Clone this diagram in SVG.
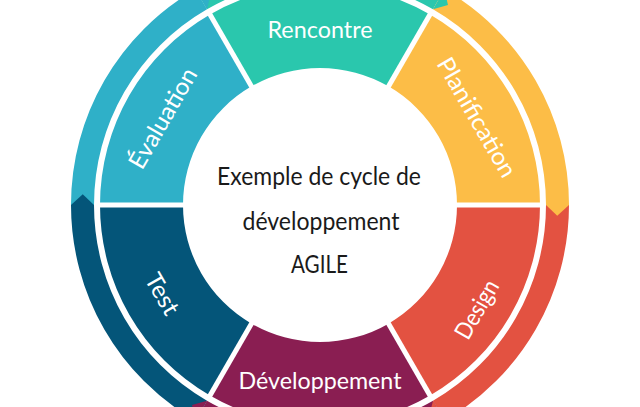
<svg xmlns="http://www.w3.org/2000/svg" width="640" height="407" viewBox="0 0 640 407">
<style>
.lbl{font-family:Lato,"Open Sans","DejaVu Sans",sans-serif;font-size:24px;fill:#ffffff;text-anchor:middle}
.ctr{font-family:Lato,"Open Sans","DejaVu Sans",sans-serif;font-size:25px;fill:#1a1a1a;text-anchor:middle}
.sep{stroke:#ffffff;stroke-width:5;fill:none}
.teal{fill:#2ac7ad}.yel{fill:#fcbd47}.red{fill:#e35241}.pur{fill:#8a1e52}.dblue{fill:#045579}.lblue{fill:#2fb0c8}
</style>
<rect width="640" height="407" fill="#ffffff"/>
<g id="ring">
<path class="teal" d="M195.5,-10.64 A249,249 0 0 1 444.5,-10.64 L433,9.28 A226,226 0 0 0 207,9.28 Z"/>
<path class="yel" d="M444.5,-10.64 A249,249 0 0 1 569,205 L546,205 A226,226 0 0 0 433,9.28 Z"/>
<path class="red" d="M569,205 A249,249 0 0 1 444.5,420.64 L433,400.72 A226,226 0 0 0 546,205 Z"/>
<path class="pur" d="M444.5,420.64 A249,249 0 0 1 195.5,420.64 L207,400.72 A226,226 0 0 0 433,400.72 Z"/>
<path class="dblue" d="M195.5,420.64 A249,249 0 0 1 71,205 L94,205 A226,226 0 0 0 207,400.72 Z"/>
<path class="lblue" d="M71,205 A249,249 0 0 1 195.5,-10.64 L207,9.28 A226,226 0 0 0 94,205 Z"/>
<polygon class="teal" points="444.5,-10.64 447.97,4.91 433,9.28"/>
<polygon class="yel" points="569,205 557.26,215.77 546,205"/>
<polygon class="red" points="444.5,420.64 429.3,415.85 433,400.72"/>
<polygon class="pur" points="195.5,420.64 192.03,405.09 207,400.72"/>
<polygon class="dblue" points="71,205 82.74,194.23 94,205"/>
<polygon class="lblue" points="195.5,-10.64 210.7,-5.85 207,9.28"/>
</g>
<g id="rencontre">
<path class="teal" d="M210,14.47 A220,220 0 0 1 430,14.47 L388.5,86.36 A137,137 0 0 0 251.5,86.36 Z"/>
<text class="lbl" x="320" y="37.5" textLength="105" lengthAdjust="spacingAndGlyphs">Rencontre</text>
</g>
<g id="planification">
<path class="yel" d="M430,14.47 A220,220 0 0 1 540,205 L457,205 A137,137 0 0 0 388.5,86.36 Z"/>
<text class="lbl" transform="translate(469.6,121.5) rotate(60)" x="0" y="0" textLength="134" lengthAdjust="spacingAndGlyphs">Planification</text>
</g>
<g id="design">
<path class="red" d="M540,205 A220,220 0 0 1 430,395.53 L388.5,323.64 A137,137 0 0 0 457,205 Z"/>
<text class="lbl" transform="translate(484,313.5) rotate(-60)" x="0" y="0" textLength="64" lengthAdjust="spacingAndGlyphs">Design</text>
</g>
<g id="developpement">
<path class="pur" d="M430,395.53 A220,220 0 0 1 210,395.53 L251.5,323.64 A137,137 0 0 0 388.5,323.64 Z"/>
<text class="lbl" x="320" y="389" textLength="163" lengthAdjust="spacingAndGlyphs">Développement</text>
</g>
<g id="test">
<path class="dblue" d="M210,395.53 A220,220 0 0 1 100,205 L183,205 A137,137 0 0 0 251.5,323.64 Z"/>
<text class="lbl" transform="translate(155.1,298) rotate(60)" x="0" y="0" textLength="44" lengthAdjust="spacingAndGlyphs">Test</text>
</g>
<g id="evaluation">
<path class="lblue" d="M100,205 A220,220 0 0 1 210,14.47 L251.5,86.36 A137,137 0 0 0 183,205 Z"/>
<text class="lbl" transform="translate(170,122.5) rotate(-60)" x="0" y="0" textLength="112" lengthAdjust="spacingAndGlyphs">Évaluation</text>
</g>
<g id="separators">
<line class="sep" x1="254" y1="90.68" x2="208" y2="11.01"/>
<line class="sep" x1="386" y1="90.68" x2="432" y2="11.01"/>
<line class="sep" x1="452" y1="205" x2="544" y2="205"/>
<line class="sep" x1="386" y1="319.32" x2="432" y2="398.99"/>
<line class="sep" x1="254" y1="319.32" x2="208" y2="398.99"/>
<line class="sep" x1="188" y1="205" x2="96" y2="205"/>
</g>
<g id="center">
<text class="ctr" x="319" y="185" textLength="204" lengthAdjust="spacingAndGlyphs">Exemple de cycle de</text>
<text class="ctr" x="321" y="230" textLength="157" lengthAdjust="spacingAndGlyphs">développement</text>
<text class="ctr" x="319.5" y="273" textLength="57" lengthAdjust="spacingAndGlyphs">AGILE</text>
</g>
</svg>
